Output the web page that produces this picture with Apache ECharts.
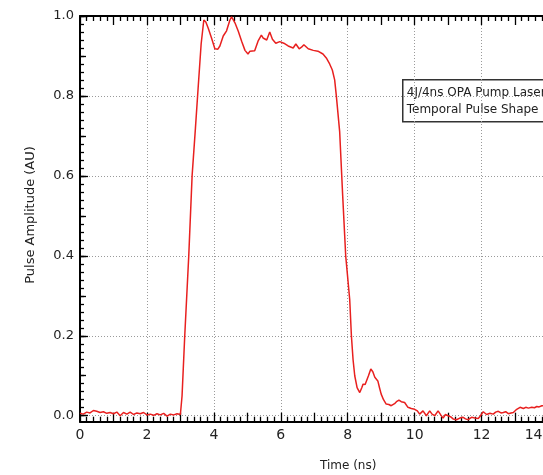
<!DOCTYPE html>
<html>
<head>
<meta charset="utf-8">
<title>OPA Pump Laser Temporal Pulse Shape</title>
<script src="https://cdn.jsdelivr.net/npm/echarts@6/dist/echarts.min.js"></script>
<style>
    html, body { margin: 0; padding: 0; background: #fff; }
    #pulse { width: 543px; height: 475px; }
</style>
</head>
<body>
<div id="pulse"></div>
<script>
var timeNs = [
    0.0, 0.1, 0.2, 0.3, 0.4, 0.5, 0.6, 0.7, 0.8, 0.9,
    1.0, 1.1, 1.2, 1.3, 1.4, 1.5, 1.6, 1.7, 1.8, 1.9,
    2.0, 2.1, 2.2, 2.3, 2.4, 2.5, 2.6, 2.7, 2.8, 2.9,
    3.0,
    3.05, 3.13, 3.25, 3.35, 3.45, 3.53, 3.62, 3.70, 3.76, 3.83,
    3.93, 4.03, 4.12, 4.18, 4.28, 4.38, 4.48, 4.53, 4.58, 4.63,
    4.73, 4.83, 4.93, 5.02, 5.08, 5.13, 5.22, 5.32, 5.42, 5.47,
    5.52, 5.58, 5.67, 5.75, 5.85, 5.97, 6.09, 6.22, 6.37, 6.45,
    6.55, 6.62, 6.69, 6.82, 6.97, 7.11, 7.26, 7.36, 7.46, 7.54,
    7.61, 7.66, 7.76, 7.85, 7.94, 8.06, 8.11, 8.16, 8.21, 8.28,
    8.36, 8.42, 8.46, 8.52, 8.56, 8.62, 8.69, 8.75, 8.81, 8.90,
    8.95, 9.00, 9.07, 9.15, 9.23, 9.30, 9.40, 9.47, 9.53, 9.60,
    9.70, 9.80, 9.90, 10.00, 10.08, 10.15, 10.25, 10.35, 10.45, 10.52,
    10.60, 10.70, 10.78, 10.85, 10.92, 11.00, 11.08, 11.15, 11.25, 11.35,
    11.45, 11.52, 11.60, 11.70, 11.80, 11.90, 11.97, 12.05, 12.10, 12.15,
    12.25, 12.35, 12.42, 12.50, 12.58, 12.65, 12.72, 12.80, 12.88, 12.95,
    13.05, 13.15, 13.25, 13.32, 13.40, 13.50, 13.58, 13.65, 13.72, 13.80,
    13.90, 14.0
];
var amplitude = [
    0.006, 0.004, 0.009, 0.007, 0.013, 0.011, 0.008, 0.010, 0.006, 0.008,
    0.005, 0.009, 0.000, 0.008, 0.004, 0.009, 0.003, 0.007, 0.005, 0.008,
    0.002, 0.004, 0.001, 0.005, 0.002, 0.006, -0.001, 0.004, 0.002, 0.005,
    0.003,
    0.05, 0.20, 0.40, 0.60, 0.72, 0.82, 0.93, 0.99, 0.985, 0.97,
    0.945, 0.918, 0.917, 0.925, 0.95, 0.963, 0.99, 0.998, 0.995, 0.983,
    0.962, 0.937, 0.914, 0.905, 0.912, 0.91, 0.913, 0.937, 0.952, 0.945,
    0.948, 0.94, 0.96, 0.942, 0.932, 0.936, 0.932, 0.925, 0.92, 0.93,
    0.918, 0.922, 0.928, 0.918, 0.914, 0.912, 0.905, 0.895, 0.88, 0.865,
    0.84, 0.80, 0.71, 0.55, 0.40, 0.29, 0.20, 0.14, 0.10, 0.07,
    0.058, 0.07, 0.079, 0.078, 0.08, 0.10, 0.117, 0.11, 0.096, 0.087,
    0.07, 0.054, 0.04, 0.029, 0.028, 0.025, 0.03, 0.036, 0.039, 0.035,
    0.033, 0.021, 0.018, 0.016, 0.012, 0.004, 0.012, 0.0, 0.012, 0.004,
    0.0, 0.012, 0.002, -0.006, 0.003, 0.0, -0.003, -0.008, -0.01, -0.006,
    -0.004, -0.008, -0.01, -0.004, -0.006, -0.007, 0.0, 0.01, 0.009, 0.003,
    0.006, 0.004, 0.009, 0.011, 0.007, 0.008, 0.01, 0.005, 0.007, 0.008,
    0.016, 0.021, 0.018, 0.021, 0.019, 0.021, 0.02, 0.023, 0.022, 0.025,
    0.024, 0.026
];
var xTickLabels = [0, 2, 4, 6, 8, 10, 12, 14];
var yTickLabels = [0, 0.2, 0.4, 0.6, 0.8, 1.0];
var boxLines = ['4J/4ns OPA Pump Laser', 'Temporal Pulse Shape'];

var font = 'DejaVu Sans';

// small tick marks on the y axis (every 0.1 and every 0.02)
var yMidTicks = [], yMinorTicks = [];
for (var i = 0; i <= 10; i++) yMidTicks.push(+(i * 0.1).toFixed(2));
for (var j = 0; j <= 50; j++) yMinorTicks.push(+(j * 0.02).toFixed(2));

var points = timeNs.map(function (t, k) { return [t, amplitude[k]]; });

var pulse = echarts.init(document.getElementById('pulse'));

function tickAxisX(pos, showLine) {
    return {
        type: 'value', position: pos, min: 0, max: 14, interval: 1,
        axisLine: { show: showLine, onZero: false, lineStyle: { color: '#000', width: 2 } },
        axisTick: { show: true, inside: true, length: 9, lineStyle: { color: '#000', width: 1.3 } },
        minorTick: { show: true, splitNumber: 5, length: 5, lineStyle: { color: '#000', width: 1.3 } },
        axisLabel: { show: false },
        splitLine: { show: false }
    };
}

function tickAxisY(values, len) {
    return {
        type: 'value', position: 'left', min: -0.015, max: 1.0,
        axisLine: { show: false, onZero: false },
        axisTick: { show: true, inside: true, length: len, customValues: values, lineStyle: { color: '#000', width: 1.3 } },
        axisLabel: { show: false },
        splitLine: { show: false }
    };
}

var lastX = xTickLabels[xTickLabels.length - 1];

var option = {
    animation: false,
    backgroundColor: '#fff',
    grid: { left: 80, top: 16, width: 468.5, height: 405.7, outerBoundsMode: 'none' },
    xAxis: [
        {
            type: 'value', position: 'bottom', min: 0, max: lastX, interval: 2,
            axisLine: { onZero: false, lineStyle: { color: '#000', width: 2 } },
            axisTick: { show: false },
            axisLabel: {
                customValues: xTickLabels,
                fontFamily: font, fontSize: 14, color: '#222', margin: 7,
                alignMaxLabel: 'right',
                formatter: function (v) { return v === lastX ? '{edge|' + v + '}' : String(v); },
                rich: { edge: { fontFamily: font, fontSize: 14, color: '#222', padding: [0, 6, 0, 0] } }
            },
            splitLine: { show: true, lineStyle: { color: '#9a9a9a', width: 1, type: [1, 2] } }
        },
        tickAxisX('bottom', false),
        tickAxisX('top', true)
    ],
    yAxis: [
        {
            type: 'value', position: 'left', min: -0.015, max: 1.0,
            axisLine: { onZero: false, lineStyle: { color: '#000', width: 2 } },
            axisTick: { show: true, inside: true, length: 8, customValues: yTickLabels, lineStyle: { color: '#000', width: 1.3 } },
            axisLabel: {
                customValues: yTickLabels,
                fontFamily: font, fontSize: 13, color: '#222', margin: 6,
                formatter: function (v) { return v.toFixed(1); }
            },
            splitLine: { show: true, lineStyle: { color: '#9a9a9a', width: 1, type: [1, 2] } }
        },
        tickAxisY(yMidTicks, 6),
        tickAxisY(yMinorTicks, 4)
    ],
    graphic: [
        {
            type: 'text', left: 320, top: 460,
            style: { text: 'Time (ns)', fontFamily: font, fontSize: 12, fill: '#222' }
        },
        {
            type: 'text', x: 31, y: 215, rotation: Math.PI / 2,
            style: {
                text: 'Pulse Amplitude (AU)', fontFamily: font, fontSize: 13, fill: '#222',
                align: 'center', verticalAlign: 'middle'
            }
        },
        {
            type: 'group', left: 402, top: 79, z: 100,
            children: [
                {
                    type: 'rect', shape: { x: 0, y: 0, width: 160, height: 42 },
                    style: { fill: '#fff', stroke: '#333', lineWidth: 1.5 }
                },
                {
                    type: 'text', x: 4, y: 5,
                    style: { text: boxLines.join('\n'), fontFamily: font, fontSize: 12, lineHeight: 17, fill: '#222' }
                }
            ]
        }
    ],
    series: [
        {
            name: 'Pulse',
            type: 'line',
            xAxisIndex: 0,
            yAxisIndex: 0,
            data: points,
            showSymbol: false,
            symbol: 'none',
            lineStyle: { color: '#e8201f', width: 1.5 },
            z: 5
        }
    ]
};

pulse.setOption(option);
window.addEventListener('resize', function () {
    pulse.resize();
});
</script>
</body>
</html>
